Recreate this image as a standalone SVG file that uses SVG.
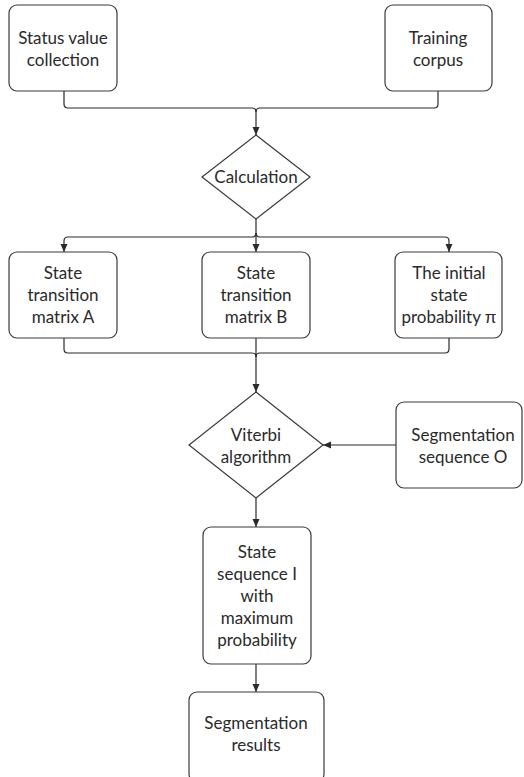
<svg xmlns="http://www.w3.org/2000/svg" width="524" height="777" viewBox="0 0 524 777">
  <style>
    .box { fill: #ffffff; stroke: #3a3a3a; stroke-width: 1.2; }
    .dia { fill: #ffffff; stroke: #3a3a3a; stroke-width: 1.2; }
    .lbl { font-family: Lato, "Open Sans", "Liberation Sans", sans-serif; font-size: 17px; fill: #2a2a2a; text-anchor: middle; }
    .sym { font-family: "Liberation Sans", "DejaVu Sans", sans-serif; }
    .wire { fill: none; stroke: #2a2a2a; stroke-width: 1.2; }
  </style>
  <defs>
    <marker id="arrow" markerWidth="10" markerHeight="10" refX="9" refY="5" orient="auto" markerUnits="userSpaceOnUse">
      <path d="M1,1.5 L9,5 L1,8.5 Z" fill="#2a2a2a"/>
    </marker>
  </defs>
  <rect width="524" height="777" fill="#ffffff"/>

  <g id="connectors">
    <!-- inputs merge into Calculation -->
    <path class="wire" d="M64,91 V104 Q64,108 68,108 H252 Q256,108 256,112" />
    <path class="wire" d="M438,91 V104 Q438,108 434,108 H260 Q256,108 256,112 V135" marker-end="url(#arrow)"/>
    <!-- Calculation fans out -->
    <path class="wire" d="M256,219 V252" marker-end="url(#arrow)"/>
    <path class="wire" d="M256,233 Q256,237 252,237 H68 Q64,237 64,241 V252" marker-end="url(#arrow)"/>
    <path class="wire" d="M256,233 Q256,237 260,237 H445 Q449,237 449,241 V252" marker-end="url(#arrow)"/>
    <!-- matrices merge into Viterbi -->
    <path class="wire" d="M64,338 V349 Q64,353 68,353 H252 Q256,353 256,357" />
    <path class="wire" d="M449,338 V349 Q449,353 445,353 H260 Q256,353 256,357" />
    <path class="wire" d="M256,338 V392" marker-end="url(#arrow)"/>
    <!-- observation sequence into Viterbi -->
    <path class="wire" d="M396,445 H323" marker-end="url(#arrow)"/>
    <!-- Viterbi to result path -->
    <path class="wire" d="M256,498 V527" marker-end="url(#arrow)"/>
    <path class="wire" d="M256,664 V692" marker-end="url(#arrow)"/>
  </g>

  <g id="status-values">
    <rect class="box" x="9" y="5" width="108" height="86" rx="8"/>
    <text class="lbl" x="63" y="44">Status value</text>
    <text class="lbl" x="63" y="66">collection</text>
  </g>

  <g id="training-corpus">
    <rect class="box" x="385" y="5" width="107" height="86" rx="8"/>
    <text class="lbl" x="438" y="44">Training</text>
    <text class="lbl" x="438" y="66">corpus</text>
  </g>

  <g id="calculation">
    <polygon class="dia" points="256,135 310,177 256,219 202,177"/>
    <text class="lbl" x="256" y="183">Calculation</text>
  </g>

  <g id="matrix-a">
    <rect class="box" x="9" y="252" width="108" height="86" rx="8"/>
    <text class="lbl" x="63" y="279">State</text>
    <text class="lbl" x="63" y="301">transition</text>
    <text class="lbl" x="63" y="323">matrix A</text>
  </g>

  <g id="matrix-b">
    <rect class="box" x="202" y="252" width="108" height="86" rx="8"/>
    <text class="lbl" x="256" y="279">State</text>
    <text class="lbl" x="256" y="301">transition</text>
    <text class="lbl" x="256" y="323">matrix B</text>
  </g>

  <g id="initial-probability">
    <rect class="box" x="395" y="252" width="107" height="86" rx="8"/>
    <text class="lbl" x="449" y="279">The initial</text>
    <text class="lbl" x="449" y="301">state</text>
    <text class="lbl" x="449" y="323">probability <tspan class="sym">π</tspan></text>
  </g>

  <g id="viterbi">
    <polygon class="dia" points="256,392 323,445 256,498 189,445"/>
    <text class="lbl" x="256" y="441">Viterbi</text>
    <text class="lbl" x="256" y="463">algorithm</text>
  </g>

  <g id="segmentation-sequence">
    <rect class="box" x="396" y="402" width="126" height="86" rx="8"/>
    <text class="lbl" x="463" y="441">Segmentation</text>
    <text class="lbl" x="463" y="463">sequence O</text>
  </g>

  <g id="state-sequence">
    <rect class="box" x="203" y="527" width="108" height="137" rx="8"/>
    <text class="lbl" x="257" y="558">State</text>
    <text class="lbl" x="257" y="580">sequence I</text>
    <text class="lbl" x="257" y="602">with</text>
    <text class="lbl" x="257" y="624">maximum</text>
    <text class="lbl" x="257" y="646">probability</text>
  </g>

  <g id="segmentation-results">
    <rect class="box" x="189" y="692" width="135" height="90" rx="8"/>
    <text class="lbl" x="256" y="729">Segmentation</text>
    <text class="lbl" x="256" y="751">results</text>
  </g>
</svg>
